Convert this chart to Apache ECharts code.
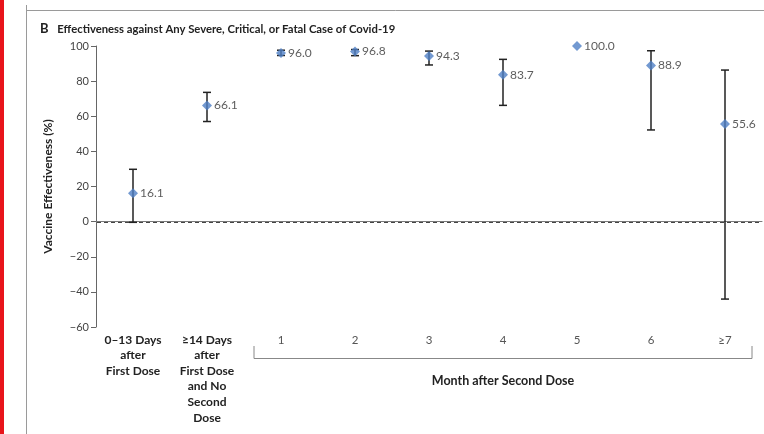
<!DOCTYPE html>
<html>
<head>
<meta charset="utf-8">
<script src="https://cdn.jsdelivr.net/npm/echarts@6/dist/echarts.min.js"></script>
<style>html,body{margin:0;padding:0;background:#fff}#c{width:764px;height:434px}</style>
</head>
<body>
<div id="c"></div>
<script>
const categories = ['0–13 Days\nafter\nFirst Dose', '≥14 Days\nafter\nFirst Dose\nand No\nSecond\nDose', '1', '2', '3', '4', '5', '6', '≥7'];
const estimates = [16.1, 66.1, 96.0, 96.8, 94.3, 83.7, 100.0, 88.9, 55.6];
const ciLow = [-0.4, 57.0, 94.6, 94.5, 89.2, 66.2, null, 52.2, -44.1];
const ciHigh = [29.8, 73.6, 97.6, 98.0, 97.1, 92.4, null, 97.3, 86.3];
const yTicks = { min: -60, max: 100, interval: 20 };
const referenceValue = 0;
const monthGroupLabel = 'Month after Second Dose';
const titleText = 'Effectiveness against Any Severe, Critical, or Fatal Case of Covid-19';

const FONT = 'Lato, "Open Sans", sans-serif';
const chart = echarts.init(document.getElementById('c'));

const errData = categories.map((c, i) => [i, ciLow[i], ciHigh[i]]).filter(d => d[1] != null);

const option = {
  animation: false,
  textStyle: { fontFamily: FONT },
  title: {
    text: '{b|B}  {t|' + titleText + '}',
    left: 35, top: 15,
    textStyle: {
      rich: {
        b: { fontFamily: FONT, fontWeight: 'bold', fontSize: 13, color: '#222' },
        t: { fontFamily: FONT, fontWeight: 'bold', fontSize: 11.3, color: '#222' }
      }
    }
  },
  grid: { left: 96, right: 2, top: 46, bottom: 107, containLabel: false },
  xAxis: {
    type: 'category',
    data: categories,
    boundaryGap: true,
    axisLine: { show: true, lineStyle: { color: '#7a7a7a', width: 1 } },
    axisTick: { show: false },
    axisLabel: {
      interval: 0,
      margin: 5,
      formatter: function (v, idx) {
        const lines = v.split('\n');
        const st = idx < 2 ? 'b' : 'm';
        return lines.map(l => '{' + st + '|' + l + '}').join('\n');
      },
      rich: {
        b: { fontFamily: FONT, fontWeight: 'bold', fontSize: 12, color: '#222', lineHeight: 15.6 },
        m: { fontFamily: FONT, fontSize: 11.5, color: '#555', lineHeight: 15.6 }
      }
    },
    splitLine: { show: false }
  },
  yAxis: {
    type: 'value',
    min: yTicks.min, max: yTicks.max, interval: yTicks.interval,
    name: 'Vaccine Effectiveness (%)',
    nameLocation: 'middle',
    nameGap: 42,
    nameRotate: 90,
    nameTextStyle: { fontFamily: FONT, fontWeight: 'bold', fontSize: 12, color: '#222' },
    axisLine: { show: true, lineStyle: { color: '#666', width: 1 } },
    axisTick: { show: true, length: 5, lineStyle: { color: '#666' } },
    axisLabel: {
      fontFamily: FONT, fontSize: 11, color: '#444', margin: 7,
      formatter: v => String(v).replace('-', '\u2212')
    },
    splitLine: { show: false }
  },
  series: [
    {
      type: 'custom',
      name: 'CI',
      data: errData,
      z: 3,
      renderItem: function (params, api) {
        const x = api.value(0);
        const lo = api.coord([x, api.value(1)]);
        const hi = api.coord([x, api.value(2)]);
        const hw = 4;
        const st = { stroke: '#222', lineWidth: 1.5 };
        return {
          type: 'group',
          children: [
            { type: 'line', shape: { x1: lo[0], y1: lo[1], x2: hi[0], y2: hi[1] }, style: st },
            { type: 'line', shape: { x1: lo[0] - hw, y1: lo[1], x2: lo[0] + hw, y2: lo[1] }, style: st },
            { type: 'line', shape: { x1: hi[0] - hw, y1: hi[1], x2: hi[0] + hw, y2: hi[1] }, style: st }
          ]
        };
      }
    },
    {
      type: 'scatter',
      name: 'Estimate',
      data: estimates,
      symbol: 'diamond',
      symbolSize: [10, 10],
      z: 4,
      itemStyle: { color: '#4f80c6' },
      label: {
        show: true, position: 'right', distance: 2,
        formatter: p => p.value.toFixed(1),
        fontFamily: FONT, fontSize: 12, color: '#333'
      }
    }
  ]
};
chart.setOption(option);

// reference line at zero and bracket grouping the month categories
const p0 = chart.convertToPixel({ xAxisIndex: 0 }, categories[0]);
const p1 = chart.convertToPixel({ xAxisIndex: 0 }, categories[2]);
const p7 = chart.convertToPixel({ xAxisIndex: 0 }, categories[8]);
const pMid = chart.convertToPixel({ xAxisIndex: 0 }, categories[5]);
const band = chart.convertToPixel({ xAxisIndex: 0 }, categories[3]) - p1;
const yBase = chart.convertToPixel({ yAxisIndex: 0 }, yTicks.min);
const yZero = Math.round(chart.convertToPixel({ yAxisIndex: 0 }, referenceValue)) + 0.5;
const xl = p0 - band / 2, xr = p7 + band / 2;
const bl = p1 - band / 2 + 10, br = p7 + band / 2 - 10;
chart.setOption({
  graphic: [
    { type: 'rect', shape: { x: 0, y: 0, width: 4, height: 434 }, style: { fill: '#e8141b' }, silent: true },
    { type: 'line', shape: { x1: 26.5, y1: 5, x2: 26.5, y2: 434 }, style: { stroke: '#9a9a9a', lineWidth: 1 }, silent: true },
    { type: 'line', shape: { x1: 26.5, y1: 10.5, x2: 764, y2: 10.5 }, style: { stroke: '#9a9a9a', lineWidth: 1 }, silent: true },
    { type: 'line', z: 1, shape: { x1: xl + 1, y1: yZero, x2: xr, y2: yZero }, style: { stroke: '#444', lineWidth: 1, lineDash: [4, 3] }, silent: true },
    { type: 'polyline', shape: { points: [[bl, yBase + 19], [bl, yBase + 31.5], [br, yBase + 31.5], [br, yBase + 19]] }, style: { stroke: '#888', lineWidth: 1, fill: null }, silent: true },
    { type: 'text', x: pMid, y: yBase + 54, style: { text: monthGroupLabel, font: 'bold 12.5px ' + FONT, fill: '#222', align: 'center', verticalAlign: 'middle' }, silent: true }
  ]
});
</script>
</body>
</html>
